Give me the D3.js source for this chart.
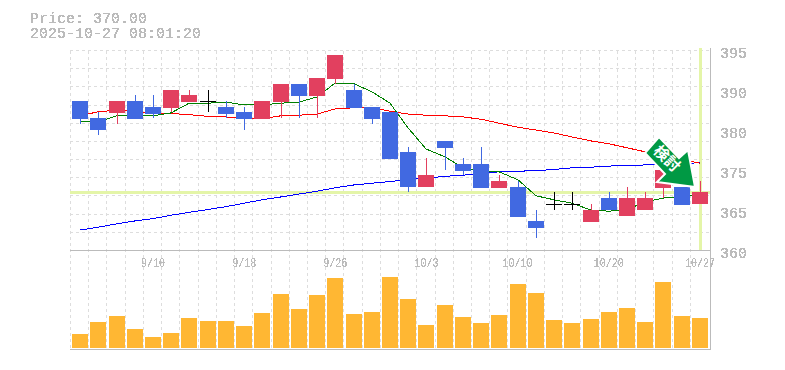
<!DOCTYPE html>
<html>
<head>
<meta charset="utf-8">
<script src="https://cdn.jsdelivr.net/npm/d3@7"></script>
<style>
  html, body { margin: 0; padding: 0; background: #fff; }
  svg { display: block; }
  text { font-family: "Liberation Mono", monospace; fill: #bbb; }
</style>
</head>
<body>
<div id="wrapper"></div>
<script>
// daily candles, oldest first
const dates = ["9/4","9/5","9/8","9/9","9/10","9/11","9/12","9/16","9/17","9/18","9/19","9/22","9/24","9/25","9/26","9/29","9/30","10/1","10/2","10/3","10/6","10/7","10/8","10/9","10/10","10/14","10/15","10/16","10/17","10/20","10/21","10/22","10/23","10/24","10/27"]
const opens  = [386,383,384,386,385,385,386,386,385,384,383,386,389,387,390,388,385,384,377,371,379,375,375,371,371,365,368,368,365,369,366,367,371,371,368]
const highs  = [386,384,386,387,387,388,388,388,386,385,386,389,389,390,394,389,385,384,378,376,379,376,378,373,372,367,370,370,368,370,371,370,374,371,372]
const lows   = [382,380,382,383,383,384,386,384,383,381,383,383,383,383,389,385,382,376,370,371,374,373,371,371,366,362,367,367,365,367,366,367,369,368,368]
const closes = [383,381,386,383,384,388,387,386,384,383,386,389,387,390,394,385,383,376,371,373,378,374,371,372,366,364,368,368,367,367,369,369,374,368,370]
const volumes = [140,260,320,190,110,150,300,270,270,220,350,540,390,530,700,340,360,710,490,230,430,310,250,330,640,550,280,250,290,360,400,260,660,320,300]

// moving averages
const maShort = [382.5,382.3,383.4,383.4,383.4,383.9,385.6,385.6,385.8,385.3,385.3,385.6,385.8,386.7,389.1,389,387.6,385.6,381.3,377.6,376.2,374.3,373.6,373.6,372.2,369.4,368.7,368.1,366.9,366.7,367,368.3,369,369.2,369.7]
const maMid = [383.4,384.1,384.4,384.2,383.9,383.8,383.6,383.3,383.2,383,382.9,383.4,383.5,383.7,384.6,384.8,384.8,384.2,383.7,383.5,383.4,383.2,382.8,382.1,381.4,380.9,380.4,379.7,379,378.5,377.8,377.1,376.4,375.7,375.1]
const maLong = [363.4,363.9,364.5,365,365.4,366,366.5,367,367.5,368.1,368.7,369.2,369.7,370.2,370.8,371.3,371.6,371.9,372.2,372.5,372.8,373,373.3,373.6,373.7,373.8,374,374.3,374.4,374.6,374.7,374.8,374.9,375,375.2]

const priceTicks = [395,388,381,374,367,360]
const dateTicks = ["9/10","9/18","9/26","10/3","10/10","10/20","10/27"]
const lastPrice = 370.00
const stamp = "2025-10-27 08:01:20"
const arrowLabel = "検討"

const dimensions = {
  width: 785,
  height: 370,
  left: 70,
  right: 710,
  priceTop: 49.5,
  priceBottom: 249.5,
  volumeTop: 250,
  volumeBottom: 348,
}

const wrapper = d3.select("#wrapper")
  .append("svg")
  .attr("width", dimensions.width)
  .attr("height", dimensions.height)

// makes the text hard edged like the original bitmap font
const hard = wrapper.append("defs").append("filter").attr("id", "hard")
  .attr("x", "-5%").attr("y", "-20%").attr("width", "110%").attr("height", "140%")
hard.append("feComponentTransfer").append("feFuncA")
  .attr("type", "discrete").attr("tableValues", "0 1 1")

const xScale = d3.scaleBand().domain(dates).range([71, 709])
const center = d => Math.round(xScale(d) + xScale.bandwidth() / 2)
const yScale = d3.scaleLinear().domain([395, 360]).range([dimensions.priceTop, dimensions.priceBottom])
const volumeScale = d3.scaleLinear().domain([0, 800]).range([dimensions.volumeBottom, dimensions.volumeBottom - 80])

// grid
const grid = wrapper.append("g")
  .attr("stroke", "#ddd")
  .attr("stroke-dasharray", "3,3")
  .attr("shape-rendering", "crispEdges")

grid.selectAll(".row")
  .data(d3.range(12))
  .join("line")
  .attr("x1", dimensions.left)
  .attr("x2", dimensions.right)
  .attr("y1", k => 50.5 + k * 200 / 11)
  .attr("y2", k => 50.5 + k * 200 / 11)

grid.selectAll(".col")
  .data(d3.range(35))
  .join("line")
  .attr("x1", k => Math.round(70 + k * xScale.step()) + 0.5)
  .attr("x2", k => Math.round(70 + k * xScale.step()) + 0.5)
  .attr("y1", 51)
  .attr("y2", dimensions.volumeBottom)

// current price and latest day markers
wrapper.append("line")
  .attr("x1", dimensions.left).attr("x2", dimensions.right)
  .attr("y1", yScale(lastPrice)).attr("y2", yScale(lastPrice))
  .attr("stroke", "#e4f5a8").attr("stroke-width", 3)
  .attr("shape-rendering", "crispEdges")
wrapper.append("line")
  .attr("x1", center(dates[34]) + 0.5).attr("x2", center(dates[34]) + 0.5)
  .attr("y1", 48).attr("y2", dimensions.priceBottom)
  .attr("stroke", "#e4f5a8").attr("stroke-width", 3)
  .attr("shape-rendering", "crispEdges")

// frame
const frame = wrapper.append("g").attr("stroke", "#bbb").attr("shape-rendering", "crispEdges")
frame.append("line").attr("x1", dimensions.left).attr("x2", dimensions.right + 1).attr("y1", 250.5).attr("y2", 250.5)
frame.append("line").attr("x1", dimensions.left).attr("x2", dimensions.right + 1).attr("y1", 349.5).attr("y2", 349.5)
frame.append("line").attr("x1", dimensions.right + 0.5).attr("x2", dimensions.right + 0.5).attr("y1", 48).attr("y2", 350)

// moving average lines
const lineGenerator = d3.line()
  .x((d, i) => center(dates[i]))
  .y(d => yScale(d))

const maLines = [[maLong, "#0000ff"], [maMid, "#ff0000"], [maShort, "#008000"]]
maLines.forEach(([values, color]) => {
  wrapper.append("path")
    .attr("d", lineGenerator(values))
    .attr("fill", "none")
    .attr("stroke", color)
    .attr("stroke-width", 1)
    .attr("shape-rendering", "crispEdges")
})

// candles
const candleColor = i => closes[i] > opens[i] ? "#e2405f" : closes[i] < opens[i] ? "#4169e1" : "#000"
const candles = wrapper.append("g").attr("shape-rendering", "crispEdges")

candles.selectAll(".wick")
  .data(dates)
  .join("line")
  .attr("x1", d => center(d) + 0.5)
  .attr("x2", d => center(d) + 0.5)
  .attr("y1", (d, i) => Math.round(yScale(highs[i])))
  .attr("y2", (d, i) => Math.round(yScale(lows[i])))
  .attr("stroke", (d, i) => candleColor(i))

candles.selectAll(".body")
  .data(dates)
  .join("rect")
  .attr("x", d => center(d) - 8)
  .attr("width", 16)
  .attr("y", (d, i) => Math.round(yScale(Math.max(opens[i], closes[i]))))
  .attr("height", (d, i) => Math.max(1, Math.round(yScale(Math.min(opens[i], closes[i])) - yScale(Math.max(opens[i], closes[i]))) + 1))
  .attr("fill", (d, i) => candleColor(i))

// volume bars
wrapper.append("g")
  .attr("shape-rendering", "crispEdges")
  .selectAll("rect")
  .data(dates)
  .join("rect")
  .attr("x", d => center(d) - 8)
  .attr("width", 16)
  .attr("y", (d, i) => volumeScale(volumes[i]))
  .attr("height", (d, i) => dimensions.volumeBottom - volumeScale(volumes[i]))
  .attr("fill", "#ffb733")

// arrow on the latest candle
const arrow = wrapper.append("g")
  .attr("transform", `translate(${center(dates[34]) - 5},${Math.round(yScale(lastPrice)) - 5})`)
arrow.append("polygon")
  .attr("points", "0,0 -7,-37 -16,-29 -36,-50 -50,-34 -30,-13 -38,-5")
  .attr("fill", "#009944")
  .attr("stroke", "#fff")
  .attr("stroke-width", 2)
arrow.append("text")
  .attr("transform", "translate(-28,-28.5) rotate(45)")
  .attr("text-anchor", "middle")
  .attr("dy", "0.36em")
  .style("font-family", "'Noto Sans CJK JP'")
  .style("font-weight", 700)
  .style("font-size", "15px")
  .style("fill", "#fff")
  .text(arrowLabel)

// axes
const priceAxis = d3.axisRight(yScale)
  .tickValues(priceTicks)
  .tickSize(0)
  .tickFormat(d => Math.round(d / 5) * 5)

wrapper.append("g")
  .attr("transform", "translate(720,0)")
  .call(priceAxis)
  .call(g => g.select(".domain").remove())
  .selectAll("text")
  .attr("x", 0)
  .attr("dy", 8)
  .style("font-size", "15px")
  .attr("filter", "url(#hard)")

const dateAxis = d3.axisBottom(xScale)
  .tickValues(dateTicks)
  .tickSize(0)

wrapper.append("g")
  .attr("transform", "translate(0,250)")
  .call(dateAxis)
  .call(g => g.select(".domain").remove())
  .selectAll("text")
  .attr("y", 17)
  .attr("dy", 0)
  .style("font-size", "13px")
  .attr("textLength", d => d.length * 6)
  .attr("lengthAdjust", "spacingAndGlyphs")
  .attr("filter", "url(#hard)")

// header
const header = wrapper.append("g").style("font-size", "15px").attr("filter", "url(#hard)")
header.append("text").attr("x", 30).attr("y", 23).text(`Price: ${lastPrice.toFixed(2)}`)
header.append("text").attr("x", 30).attr("y", 38).text(stamp)
</script>
</body>
</html>
